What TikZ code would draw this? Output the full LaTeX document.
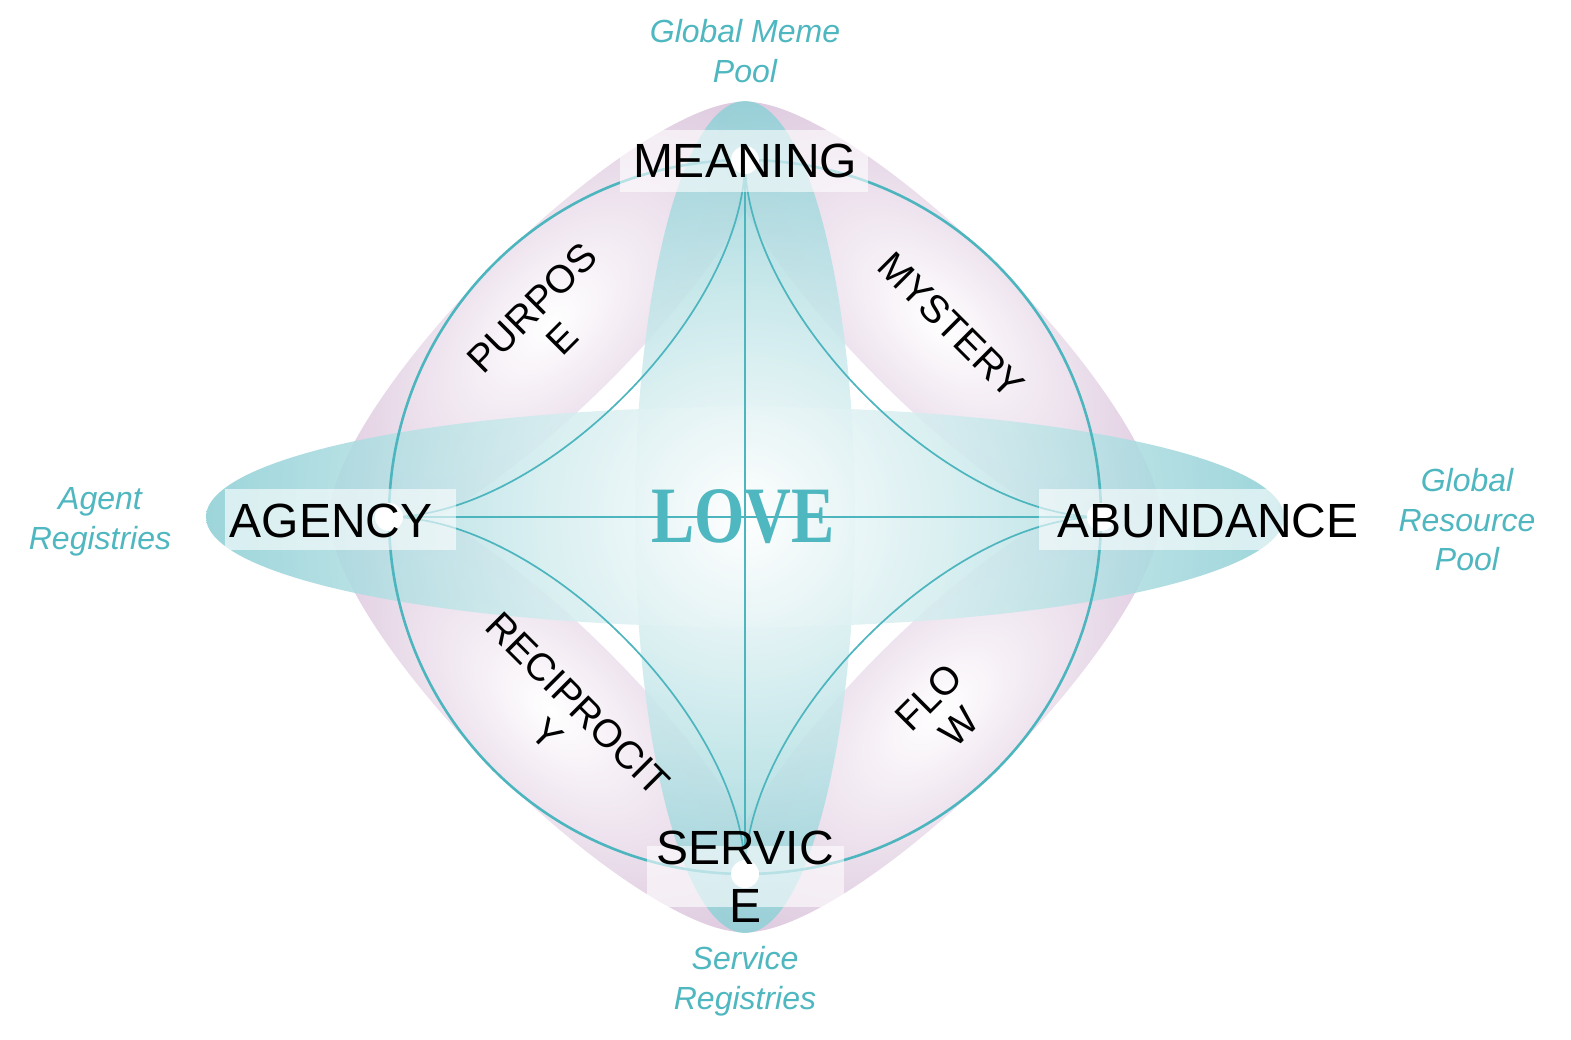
\documentclass[tikz,border=0pt]{standalone}
\usepackage{fontspec}
\usepackage{graphicx}
\setmainfont{Liberation Sans}
\newfontfamily\lovefont{Liberation Serif}
\usetikzlibrary{calc}
\definecolor{tealline}{HTML}{4CB5BE}
\definecolor{tealfill}{HTML}{8FD0D6}
\definecolor{pinkfill}{HTML}{DDC8DE}
\definecolor{tealtext}{HTML}{4FB7C0}
\begin{document}
\begin{tikzpicture}[x=1pt,y=-1pt,
  mainlabel/.style={font=\fontsize{48}{58}\selectfont, text=black, inner sep=0pt, align=center},
  lobelabel/.style={font=\fontsize{39}{43}\selectfont, text=black, inner sep=0pt, align=center},
  sidelabel/.style={font=\itshape\fontsize{32}{39.5}\selectfont, text=tealtext, inner sep=0pt, align=center},
  labelbox/.style={fill=white, fill opacity=0.6, draw=none},
  hubdot/.style={fill=white, draw=none},
  wire/.style={draw=tealline, line width=1.7pt},
  ring/.style={draw=tealline, line width=2.6pt}]
\useasboundingbox (0,0) rectangle (1571,1039);
\fill[white] (0,0) rectangle (1571,1039);

\coordinate (O) at (745,517);
\coordinate (T) at (745,160);
\coordinate (B) at (745,874);
\coordinate (L) at (389,517);
\coordinate (R) at (1101,517);

% pink lobes
\foreach \cx/\cy/\ang in {551.3/323.3/45, 938.7/323.3/-45, 551.3/710.7/-45, 938.7/710.7/45}{
  \begin{scope}[transform canvas={shift={(\cx,\cy)}, rotate=\ang}]
    \clip (0,0) ellipse (302 and 82);
    \shade[inner color=white, outer color=pinkfill] (0,0) ellipse (302 and 165);
  \end{scope}
}

% teal ellipses
\begin{scope}
  \clip (O) ellipse (110 and 416);
  \shade[inner color=white, outer color=tealfill, fill opacity=0.88] (O) circle (416);
\end{scope}
\begin{scope}
  \clip (O) ellipse (539 and 110);
  \shade[inner color=white, outer color=tealfill, fill opacity=0.88] (O) circle (539);
\end{scope}

% circle and connectors
\draw[ring] (O) ellipse (356 and 357);
\draw[wire] (T) -- (B);
\draw[wire] (L) -- (R);
\draw[wire] (T) .. controls +(0,153) and +(153,0) .. (L);
\draw[wire] (T) .. controls +(0,153) and +(-153,0) .. (R);
\draw[wire] (B) .. controls +(0,-153) and +(153,0) .. (L);
\draw[wire] (B) .. controls +(0,-153) and +(-153,0) .. (R);

% label boxes
\fill[labelbox] (620,130) rectangle (868,192);
\fill[labelbox] (225,489) rectangle (456,550);
\fill[labelbox] (1039,489) rectangle (1377,550);
\fill[labelbox] (647,846) rectangle (844,907);

% hub dots
\fill[hubdot] (T) circle (14);
\fill[hubdot] (B) circle (14);
\fill[hubdot] (L) circle (14);
\fill[hubdot] (R) circle (14);

% main labels
\node[mainlabel] (meaning) at (745,161) {MEANING};
\node[mainlabel] (agency) at (331,521) {AGENCY};
\node[mainlabel] (abundance) at (1208,521) {ABUNDANCE};
\node[mainlabel] (service) at (745,877) {SERVIC\\E};

% lobe labels
\node[lobelabel, rotate=45] (purpose) at (547,323) {PURPOS\\E};
\node[lobelabel, rotate=-45] (mystery) at (951,325) {MYSTERY};
\node[lobelabel, rotate=-45] (recip) at (563,719) {RECIPROCIT\\Y};
\node[lobelabel, rotate=45] (flow) at (944,712) {FLO\\W};

% side labels
\node[sidelabel] (memepool) at (745,51) {Global Meme\\Pool};
\node[sidelabel] (agentreg) at (100,522) {Agent\\Registries};
\node[sidelabel] (resourcepool) at (1467,520) {Global\\Resource\\Pool};
\node[sidelabel] (servicereg) at (745,981) {Service\\Registries};

% centre
\node[text=tealtext, inner sep=0pt, font=\lovefont\bfseries\fontsize{80}{80}\selectfont] (love) at (743,517) {\scalebox{0.81}[1]{LOVE}};
\end{tikzpicture}
\end{document}
